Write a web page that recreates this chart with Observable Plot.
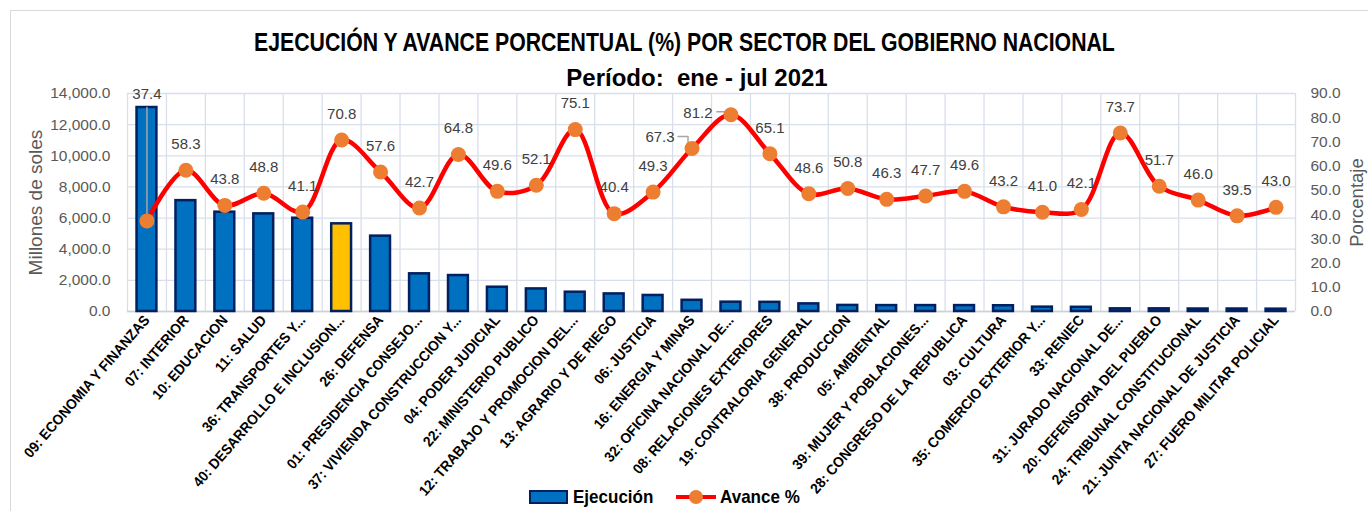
<!DOCTYPE html>
<html><head><meta charset="utf-8">
<script src="https://cdn.jsdelivr.net/npm/d3@7"></script>
<script src="https://cdn.jsdelivr.net/npm/@observablehq/plot@0.6"></script>
<style>
body{margin:0;background:#fff;}
#wrap{position:relative;width:1368px;height:511px;overflow:hidden;font-family:"Liberation Sans",Arial,sans-serif;}
#border{position:absolute;left:10px;top:10px;width:1400px;height:600px;border:1px solid #d9d9d9;box-sizing:border-box;}
#chart{position:absolute;left:0;top:0;}
.ttl{position:absolute;left:0;width:1368px;text-align:center;font-weight:bold;color:#000;white-space:nowrap;}
#title{top:27px;font-size:25px;line-height:30px;transform:scaleX(0.85);transform-origin:687px 50%;}
#subtitle{top:63px;font-size:24px;line-height:30px;padding-left:26px;box-sizing:border-box;}
.lg{position:absolute;font-weight:bold;font-size:18.5px;color:#000;line-height:22px;white-space:nowrap;transform-origin:0 50%;transform:scaleX(0.92);}
#sw1{position:absolute;left:529px;top:490px;width:35px;height:10px;background:#0070c0;border:2px solid #002060;}
#sw2{position:absolute;left:676px;top:495px;width:40px;height:4px;background:#ff0000;}
#sw2d{position:absolute;left:689px;top:490px;width:14px;height:14px;border-radius:50%;background:#ed7d31;}
</style></head>
<body>
<div id="wrap">
  <div id="border"></div>
  <div id="chart"></div>
  <div class="ttl" id="title">EJECUCIÓN Y AVANCE PORCENTUAL (%) POR SECTOR DEL GOBIERNO NACIONAL</div>
  <div class="ttl" id="subtitle">Período:&nbsp; ene - jul 2021</div>
  <div id="sw1"></div><div class="lg" style="left:573px;top:486px;">Ejecución</div>
  <div id="sw2"></div><div id="sw2d"></div><div class="lg" style="left:720px;top:486px;">Avance %</div>
</div>
<script>
const sectors = [
  "09: ECONOMIA Y FINANZAS","07: INTERIOR","10: EDUCACION","11: SALUD","36: TRANSPORTES Y...",
  "40: DESARROLLO E INCLUSION...","26: DEFENSA","01: PRESIDENCIA CONSEJO...","37: VIVIENDA CONSTRUCCION Y...","04: PODER JUDICIAL",
  "22: MINISTERIO PUBLICO","12: TRABAJO Y PROMOCION DEL...","13: AGRARIO Y DE RIEGO","06: JUSTICIA","16: ENERGIA Y MINAS",
  "32: OFICINA NACIONAL DE...","08: RELACIONES EXTERIORES","19: CONTRALORIA GENERAL","38: PRODUCCION","05: AMBIENTAL",
  "39: MUJER Y POBLACIONES...","28: CONGRESO DE LA REPUBLICA","03: CULTURA","35: COMERCIO EXTERIOR Y...","33: RENIEC",
  "31: JURADO NACIONAL DE...","20: DEFENSORIA DEL PUEBLO","24: TRIBUNAL CONSTITUCIONAL","21: JUNTA NACIONAL DE JUSTICIA","27: FUERO MILITAR POLICIAL"
];
const ejecucion = [13100,7120,6380,6270,5990,5630,4840,2420,2310,1560,1450,1240,1130,1030,720,600,590,490,390,380,380,380,370,280,270,170,170,160,160,150];
const avance = [37.4,58.3,43.8,48.8,41.1,70.8,57.6,42.7,64.8,49.6,52.1,75.1,40.4,49.3,67.3,81.2,65.1,48.6,50.8,46.3,47.7,49.6,43.2,41.0,42.1,73.7,51.7,46.0,39.5,43.0];
const highlighted = ["40: DESARROLLO E INCLUSION..."];
const leftTicks = [0,2000,4000,6000,8000,10000,12000,14000];
const rightTicks = [0,10,20,30,40,50,60,70,80,90];

const W = 1368, H = 511, ML = 127, MR = 73, MT = 93, MB = 200;
const YMAX = 14000, PMAX = 90, K = YMAX / PMAX;
const n = sectors.length;
const pxX = (W - ML - MR) / n;          // px per category
const pxY = (H - MT - MB) / YMAX;        // px per sol
const ux = px => px / pxX, uy = px => px / pxY;

const data = sectors.map((s, i) => ({s, i, e: ejecucion[i], p: avance[i], pk: avance[i] * K, hi: highlighted.includes(s)}));
const normal = data.filter(d => d.i !== 0 && d.i !== 14 && d.i !== 15);
const d0 = data[0], d14 = data[14], d15 = data[15];

// leader lines (label -> point)
const leaders = [
  {id: 0, pts: [[d0.i, d0.e], [d0.i, d0.pk]]},
  {id: 14, pts: [[d14.i - ux(14), d14.pk + uy(12)], [d14.i - ux(4), d14.pk + uy(12)], [d14.i - ux(4), d14.pk + uy(6)]]},
  {id: 15, pts: [[d15.i - ux(14), d15.pk + uy(3)], [d15.i - ux(3), d15.pk + uy(3)]]}
].flatMap(l => l.pts.map(([x, y]) => ({id: l.id, x, y})));

const font = '"Liberation Sans",Arial,sans-serif';
const grid = "#d9dfea";
const lblSize = 15;

const chart = Plot.plot({
  width: W, height: H,
  marginLeft: ML, marginRight: MR, marginTop: MT, marginBottom: MB,
  style: {fontFamily: font, background: "transparent", overflow: "visible"},
  x: {type: "linear", domain: [-0.5, n - 0.5], axis: null},
  y: {domain: [0, YMAX], axis: null},
  marks: [
    Plot.ruleY(leftTicks, {stroke: grid, strokeWidth: 1.3}),
    Plot.ruleX(d3.range(n + 1), {x: d => d - 0.5, stroke: grid, strokeWidth: 1.3}),
    Plot.ruleY([0], {stroke: "#d0d0d0", strokeWidth: 1.5}),
    Plot.rectY(data, {x1: d => d.i - 0.255, x2: d => d.i + 0.255, y1: 0, y2: "e",
      fill: d => d.hi ? "#ffc000" : "#0070c0", stroke: "#002060", strokeWidth: 2.5}),
    Plot.line(leaders, {x: "x", y: "y", z: "id", stroke: "#a6a6a6", strokeWidth: 1.5}),
    Plot.line(data, {x: "i", y: "pk", curve: "catmull-rom", stroke: "#ff0000", strokeWidth: 4.5}),
    Plot.dot(data, {x: "i", y: "pk", r: 7.5, fill: "#ed7d31", stroke: null}),
    Plot.text(normal, {x: "i", y: "pk", text: d => d.p.toFixed(1), dy: -26, fontSize: lblSize, fill: "#404040"}),
    Plot.text([d0], {x: "i", y: "e", text: d => d.p.toFixed(1), dy: -13, fontSize: lblSize, fill: "#404040"}),
    Plot.text([d14], {x: "i", y: "pk", text: d => d.p.toFixed(1), dx: -32, dy: -11, fontSize: lblSize, fill: "#404040"}),
    Plot.text([d15], {x: "i", y: "pk", text: d => d.p.toFixed(1), dx: -33, dy: -2, fontSize: lblSize, fill: "#404040"}),
    Plot.axisX(d3.range(n), {tickFormat: i => sectors[i], tickRotate: -49, tickSize: 0, tickPadding: 6,
      fontSize: 14.5, fontWeight: "bold", fill: "#000", label: null}),
    Plot.axisY(leftTicks, {anchor: "left", tickSize: 0, tickPadding: 17, tickFormat: d3.format(",.1f"),
      fontSize: 15.5, fill: "#595959", label: null}),
    Plot.axisY(rightTicks.map(p => p * K), {anchor: "right", tickSize: 0, tickPadding: 15,
      tickFormat: d => (d / K).toFixed(1), fontSize: 15.5, fill: "#595959", label: null}),
    Plot.text(["Millones de soles"], {frameAnchor: "left", dx: -92, textAnchor: "middle", rotate: -90, fontSize: 19, fill: "#595959"}),
    Plot.text(["Porcentaje"], {frameAnchor: "right", dx: 62, textAnchor: "middle", rotate: -90, fontSize: 18.5, fill: "#595959"})
  ]
});
document.getElementById("chart").appendChild(chart);

// the original category labels use a slightly narrower typeface
d3.select(chart).selectAll('g[aria-label="x-axis tick label"] text').each(function() {
  const len = this.getComputedTextLength();
  this.setAttribute("textLength", (len * 0.94).toFixed(1));
  this.setAttribute("lengthAdjust", "spacingAndGlyphs");
});
</script>
</body></html>
